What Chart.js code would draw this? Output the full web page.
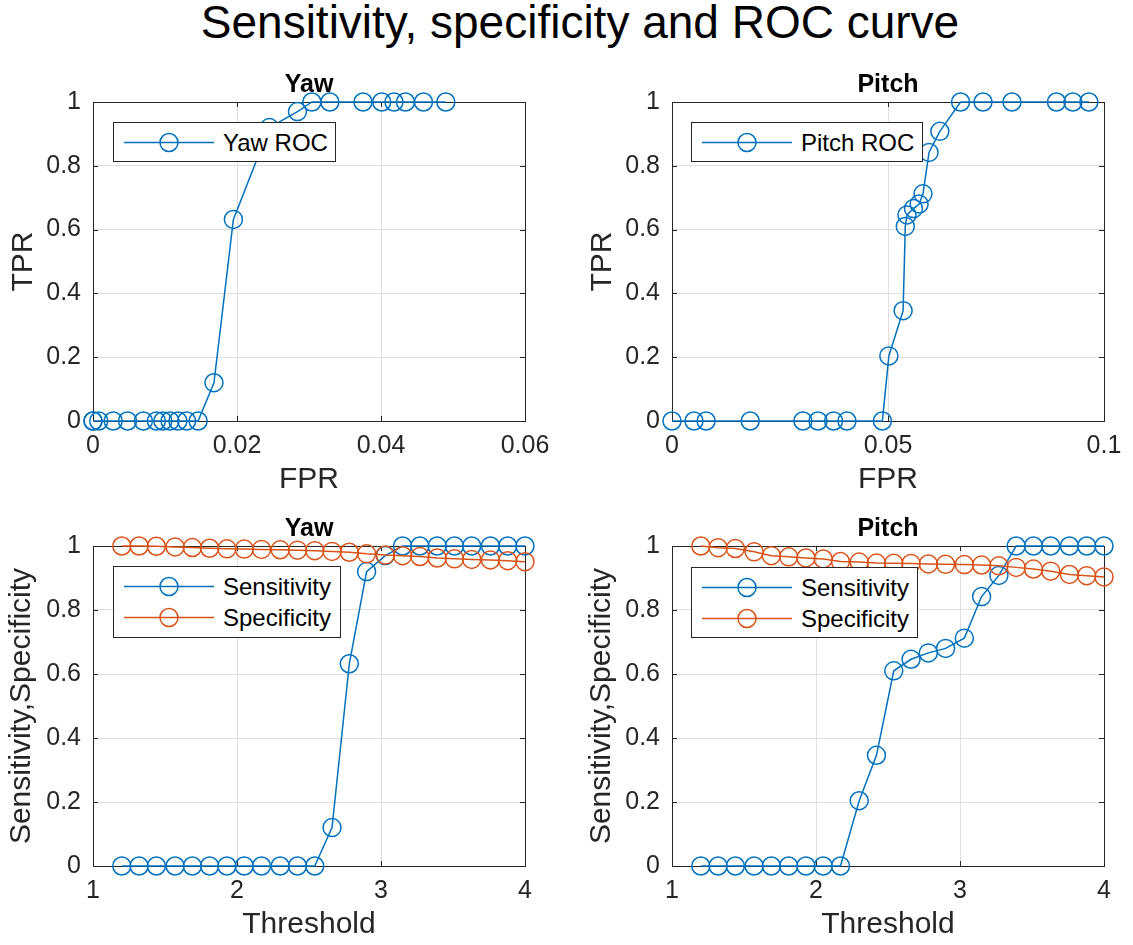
<!DOCTYPE html>
<html>
<head>
<meta charset="utf-8">
<title>Sensitivity, specificity and ROC curve</title>
<script src="https://cdn.jsdelivr.net/npm/chart.js@4.4.0/dist/chart.umd.min.js"></script>
<style>
    html, body { margin: 0; padding: 0; background: #fff; }
    #fig { position: relative; width: 1133px; height: 945px; overflow: hidden; font-family: "Liberation Sans", Arial, sans-serif; }
    #suptitle { position: absolute; left: 0; top: -3px; width: 1160px; text-align: center; font-size: 46px; line-height: 50px; color: #000; }
    canvas { position: absolute; }
    .legend { position: absolute; box-sizing: border-box; border: 1px solid #262626; background: #fff; padding-top: 4px; z-index: 2; }
    .legend-row { position: relative; height: 31px; font-size: 24px; line-height: 31px; color: #000; white-space: nowrap; }
    .legend-row svg { position: absolute; left: 9px; top: 0; }
    .legend-row span { position: absolute; left: 109px; top: 0; }
</style>
</head>
<body>
<div id="fig">
    <div id="suptitle">Sensitivity, specificity and ROC curve</div>
    <canvas id="rocYaw" width="566" height="440" style="left:0;top:60px"></canvas>
    <canvas id="rocPitch" width="567" height="440" style="left:566px;top:60px"></canvas>
    <canvas id="ssYaw" width="566" height="445" style="left:0;top:500px"></canvas>
    <canvas id="ssPitch" width="567" height="445" style="left:566px;top:500px"></canvas>
</div>
<script>
// thresholds shared by both bottom plots
var thresholds = [1.2, 1.32, 1.44, 1.57, 1.69, 1.81, 1.93, 2.05, 2.17, 2.3, 2.42, 2.54,
    2.66, 2.78, 2.9, 3.03, 3.15, 3.27, 3.39, 3.51, 3.63, 3.76, 3.88, 4.0];

// yaw
var yawSens = [0, 0, 0, 0, 0, 0, 0, 0, 0, 0, 0, 0,
    0.12, 0.632, 0.92, 0.97, 1, 1, 1, 1, 1, 1, 1, 1];
var yawSpec = [1, 1, 0.9992, 0.9972, 0.9952, 0.993, 0.9912, 0.9903, 0.9893, 0.9882, 0.987, 0.9854,
    0.9832, 0.9805, 0.9755, 0.9716, 0.9696, 0.9671, 0.9625, 0.9599, 0.9582, 0.9566, 0.9541, 0.951];
var yawFpr = [0, 0, 0.0008, 0.0028, 0.0048, 0.007, 0.0088, 0.0097, 0.0107, 0.0118, 0.013, 0.0146,
    0.0168, 0.0195, 0.0245, 0.0284, 0.0304, 0.0329, 0.0375, 0.0401, 0.0418, 0.0434, 0.0459, 0.049];

// pitch
var pitchSens = [0, 0, 0, 0, 0, 0, 0, 0, 0,
    0.204, 0.346, 0.61, 0.646, 0.666, 0.68, 0.712, 0.842, 0.908, 1, 1, 1, 1, 1, 1];
var pitchSpec = [1, 0.9949, 0.9921, 0.9819, 0.9697, 0.9662, 0.9626, 0.9595, 0.9513, 0.9498, 0.9465, 0.946,
    0.9456, 0.9441, 0.9428, 0.9419, 0.9405, 0.938, 0.9332, 0.928, 0.9213, 0.911, 0.9072, 0.9035];
var pitchFpr = [0, 0.0051, 0.0079, 0.0181, 0.0303, 0.0338, 0.0374, 0.0405, 0.0487, 0.0502, 0.0535, 0.054,
    0.0544, 0.0559, 0.0572, 0.0581, 0.0595, 0.062, 0.0668, 0.072, 0.0787, 0.089, 0.0928, 0.0965];

// tick labels
var yawFprTicks = [0, 0.02, 0.04, 0.06];
var pitchFprTicks = [0, 0.05, 0.1];
var thresholdTicks = [1, 2, 3, 4];
var rateTicks = [0, 0.2, 0.4, 0.6, 0.8, 1];

var BLUE = '#0072BD';
var ORANGE = '#D95319';
var AXIS = '#262626';

Chart.defaults.font.family = '"Liberation Sans", Arial, sans-serif';
Chart.defaults.color = AXIS;

// matlab-ish box with inward ticks, drawn under the data
var axesBox = {
    id: 'axesBox',
    beforeDatasetsDraw: function (chart) {
        var a = chart.chartArea;
        var ctx = chart.ctx;
        var xs = chart.scales.x;
        var ys = chart.scales.y;
        ctx.save();
        ctx.strokeStyle = AXIS;
        ctx.lineWidth = 1;
        ctx.beginPath();
        xs.ticks.forEach(function (t) {
            var px = Math.round(xs.getPixelForValue(t.value)) + 0.5;
            ctx.moveTo(px, a.bottom); ctx.lineTo(px, a.bottom - 5);
            ctx.moveTo(px, a.top); ctx.lineTo(px, a.top + 5);
        });
        ys.ticks.forEach(function (t) {
            var py = Math.round(ys.getPixelForValue(t.value)) + 0.5;
            ctx.moveTo(a.left, py); ctx.lineTo(a.left + 5, py);
            ctx.moveTo(a.right, py); ctx.lineTo(a.right - 5, py);
        });
        ctx.stroke();
        ctx.strokeRect(Math.round(a.left) + 0.5, Math.round(a.top) + 0.5,
            Math.round(a.right - a.left), Math.round(a.bottom - a.top));
        ctx.restore();
    }
};

function pairs(xs, ys) {
    return xs.map(function (x, i) { return { x: x, y: ys[i] }; });
}

function fixedTicks(values) {
    return function (scale) {
        scale.ticks = values.map(function (v) { return { value: v }; });
    };
}

function makeChart(c) {
    var canvas = document.getElementById(c.id);
    var datasets = c.series.map(function (s, i) {
        return {
            label: s.label,
            data: pairs(s.x, s.y),
            borderColor: s.color,
            borderWidth: 1.5,
            pointStyle: 'circle',
            pointRadius: 9,
            pointBorderWidth: 1.5,
            pointBackgroundColor: 'rgba(0,0,0,0)',
            pointBorderColor: s.color,
            tension: 0,
            clip: false,
            order: c.series.length - i
        };
    });

    var chart = new Chart(canvas, {
        type: 'line',
        data: { datasets: datasets },
        plugins: [axesBox],
        options: {
            responsive: false,
            animation: false,
            devicePixelRatio: 1,
            layout: { padding: { left: 0, right: c.padRight, top: 0, bottom: 0 } },
            plugins: {
                legend: { display: false },
                tooltip: { enabled: false },
                title: {
                    display: true,
                    text: c.title,
                    color: '#000',
                    fullSize: false,
                    font: { size: 25, weight: 'bold' },
                    padding: c.titlePad
                }
            },
            scales: {
                x: {
                    type: 'linear',
                    min: c.xTicks[0],
                    max: c.xTicks[c.xTicks.length - 1],
                    afterBuildTicks: fixedTicks(c.xTicks),
                    afterFit: function (scale) { scale.height = c.xHeight; },
                    grid: { color: '#dfdfdf', drawTicks: false },
                    border: { display: false },
                    ticks: {
                        padding: 10,
                        font: { size: 25 },
                        maxRotation: 0,
                        autoSkip: false,
                        callback: function (v) { return String(v); }
                    },
                    title: {
                        display: true,
                        text: c.xLabel,
                        color: AXIS,
                        font: { size: 30 },
                        padding: { top: 0, bottom: c.xTitleBottom }
                    }
                },
                y: {
                    type: 'linear',
                    min: 0,
                    max: 1,
                    afterBuildTicks: fixedTicks(rateTicks),
                    afterFit: function (scale) { scale.width = c.yWidth; },
                    grid: { color: '#dfdfdf', drawTicks: false },
                    border: { display: false },
                    ticks: {
                        padding: 12,
                        font: { size: 25 },
                        autoSkip: false,
                        callback: function (v) { return String(v); }
                    },
                    title: {
                        display: true,
                        text: c.yLabel,
                        color: AXIS,
                        font: { size: 30 },
                        padding: { top: c.yTitleTop, bottom: 0 }
                    }
                }
            }
        }
    });

    buildLegend(chart, c.legend);
    return chart;
}

// legend box inside the axes, as in the original figure
function buildLegend(chart, box) {
    var el = document.createElement('div');
    el.className = 'legend';
    el.style.left = box.left + 'px';
    el.style.top = box.top + 'px';
    el.style.width = box.width + 'px';
    el.style.height = box.height + 'px';
    chart.data.datasets.forEach(function (ds) {
        var row = document.createElement('div');
        row.className = 'legend-row';
        row.innerHTML =
            '<svg width="92" height="31" viewBox="0 0 92 31">' +
            '<line x1="1" y1="15.5" x2="91" y2="15.5" stroke="' + ds.borderColor + '" stroke-width="1.5"/>' +
            '<circle cx="46" cy="15.5" r="9" fill="none" stroke="' + ds.borderColor + '" stroke-width="1.5"/>' +
            '</svg><span></span>';
        row.querySelector('span').textContent = ds.label;
        el.appendChild(row);
    });
    document.getElementById('fig').appendChild(el);
}

makeChart({
    id: 'rocYaw', title: 'Yaw', xLabel: 'FPR', yLabel: 'TPR',
    xTicks: yawFprTicks, padRight: 41, yWidth: 93, xHeight: 79,
    titlePad: { top: 10, bottom: 2 }, yTitleTop: 6, xTitleBottom: 2,
    series: [{ label: 'Yaw ROC', x: yawFpr, y: yawSens, color: BLUE }],
    legend: { left: 113, top: 122, width: 223, height: 40 }
});

makeChart({
    id: 'rocPitch', title: 'Pitch', xLabel: 'FPR', yLabel: 'TPR',
    xTicks: pitchFprTicks, padRight: 29, yWidth: 106, xHeight: 79,
    titlePad: { top: 10, bottom: 2 }, yTitleTop: 19, xTitleBottom: 2,
    series: [{ label: 'Pitch ROC', x: pitchFpr, y: pitchSens, color: BLUE }],
    legend: { left: 691, top: 122, width: 232, height: 40 }
});

makeChart({
    id: 'ssYaw', title: 'Yaw', xLabel: 'Threshold', yLabel: 'Sensitivity,Specificity',
    xTicks: thresholdTicks, padRight: 41, yWidth: 93, xHeight: 79,
    titlePad: { top: 14, bottom: 2 }, yTitleTop: 4, xTitleBottom: 2.5,
    series: [
        { label: 'Sensitivity', x: thresholds, y: yawSens, color: BLUE },
        { label: 'Specificity', x: thresholds, y: yawSpec, color: ORANGE }
    ],
    legend: { left: 113, top: 566, width: 228, height: 72 }
});

makeChart({
    id: 'ssPitch', title: 'Pitch', xLabel: 'Threshold', yLabel: 'Sensitivity,Specificity',
    xTicks: thresholdTicks, padRight: 29, yWidth: 106, xHeight: 79,
    titlePad: { top: 14, bottom: 2 }, yTitleTop: 18, xTitleBottom: 2.5,
    series: [
        { label: 'Sensitivity', x: thresholds, y: pitchSens, color: BLUE },
        { label: 'Specificity', x: thresholds, y: pitchSpec, color: ORANGE }
    ],
    legend: { left: 691, top: 567, width: 227, height: 71 }
});
</script>
</body>
</html>
